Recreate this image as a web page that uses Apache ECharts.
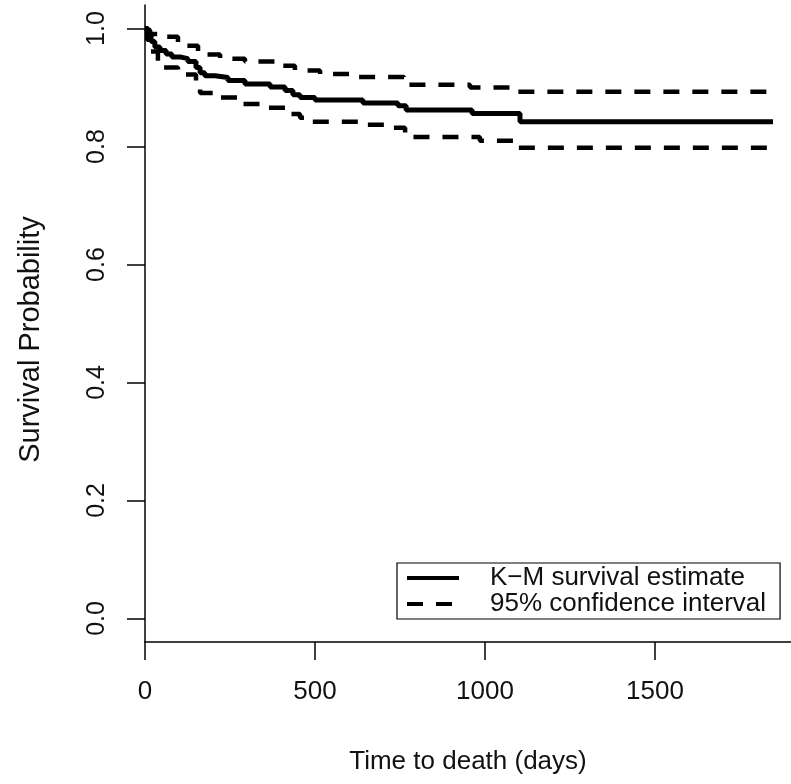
<!DOCTYPE html>
<html>
<head>
<meta charset="utf-8">
<script src="https://cdn.jsdelivr.net/npm/echarts@6/dist/echarts.min.js"></script>
<style>
  html, body { margin: 0; padding: 0; background: #fff; }
  #main { width: 791px; height: 784px; }
</style>
</head>
<body>
<div id="main"></div>
<script>
// K-M estimate (time in days, survival after the drop)
var kmTime = [0, 9, 18, 29, 44, 62, 79, 103, 126, 150, 162, 176, 206, 244, 294, 368, 412, 435, 456, 500, 641, 744, 768, 962, 1103, 1847];
var kmSurv = [1.0, 0.99, 0.978, 0.969, 0.963, 0.957, 0.952, 0.949, 0.944, 0.934, 0.925, 0.920, 0.917, 0.912, 0.906, 0.901, 0.895, 0.888, 0.883, 0.879, 0.874, 0.869, 0.862, 0.856, 0.842, 0.842];

// 95% confidence bounds
var upperTime = [0, 3, 15, 44, 97, 118, 156, 221, 294, 382, 441, 515, 618, 762, 956, 1097, 1847];
var upperSurv = [1.0, 0.997, 0.991, 0.986, 0.976, 0.971, 0.956, 0.949, 0.944, 0.937, 0.929, 0.923, 0.918, 0.905, 0.900, 0.893, 0.893];
var lowerTime = [0, 6, 15, 38, 53, 97, 150, 162, 206, 279, 353, 412, 456, 485, 632, 721, 765, 985, 1097, 1847];
var lowerSurv = [1.0, 0.981, 0.961, 0.944, 0.934, 0.922, 0.900, 0.891, 0.883, 0.872, 0.866, 0.855, 0.849, 0.842, 0.837, 0.832, 0.816, 0.810, 0.798, 0.798];

var xTicks = [0, 500, 1000, 1500];
var yTicks = [0, 0.2, 0.4, 0.6, 0.8, 1.0];

var kmName = 'K\u2212M survival estimate';
var ciName = '95% confidence interval';

function pairs(xs, ys) {
  return xs.map(function (x, i) { return [x, ys[i]]; });
}

var font = 'Liberation Sans, Arial, sans-serif';
var ink = '#111';

var chart = echarts.init(document.getElementById('main'));
var option = {
  backgroundColor: '#fff',
  animation: false,
  grid: { left: 145, right: 0, top: 5, bottom: 142 },
  xAxis: {
    type: 'value',
    min: 0,
    max: 1900,
    name: 'Time to death (days)',
    nameLocation: 'middle',
    nameGap: 107,
    nameTextStyle: { fontFamily: font, fontSize: 26, color: ink },
    axisLine: { show: true, onZero: false, lineStyle: { color: '#000', width: 1.5 } },
    axisTick: { show: true, length: 18, customValues: xTicks, lineStyle: { color: '#000', width: 1.5 } },
    axisLabel: {
      customValues: xTicks,
      margin: 37,
      fontFamily: font,
      fontSize: 26,
      color: ink,
      formatter: function (v) { return String(v); }
    },
    splitLine: { show: false }
  },
  yAxis: {
    type: 'value',
    min: -0.04,
    max: 1.04,
    name: 'Survival Probability',
    nameLocation: 'middle',
    nameGap: 100,
    nameTextStyle: { fontFamily: font, fontSize: 29, color: ink, padding: [0, 32, 0, 0] },
    axisLine: { show: true, onZero: false, lineStyle: { color: '#000', width: 1.5 } },
    axisTick: { show: true, length: 18, customValues: yTicks, lineStyle: { color: '#000', width: 1.5 } },
    axisLabel: {
      customValues: yTicks,
      rotate: 90,
      margin: 35,
      fontFamily: font,
      fontSize: 25,
      color: ink,
      formatter: function (v) { return v.toFixed(1); }
    },
    splitLine: { show: false }
  },
  legend: {
    data: [kmName, ciName],
    orient: 'vertical',
    left: 397,
    top: 563,
    padding: [2, 14, 2, 8],
    itemGap: 0,
    itemWidth: 52,
    itemHeight: 20,
    borderColor: '#000',
    borderWidth: 1.2,
    borderRadius: 0,
    lineStyle: { width: 4 },
    itemStyle: { opacity: 0 },
    selectedMode: false,
    textStyle: { fontFamily: font, fontSize: 26, lineHeight: 25, color: ink, padding: [0, 0, 0, 26] }
  },
  series: [
    {
      name: kmName,
      type: 'line',
      step: 'end',
      symbol: 'none',
      data: pairs(kmTime, kmSurv),
      lineStyle: { color: '#000', width: 5 },
      itemStyle: { color: '#000' }
    },
    {
      name: ciName,
      type: 'line',
      step: 'end',
      symbol: 'none',
      data: pairs(upperTime, upperSurv),
      lineStyle: { color: '#000', width: 4.5, type: [16, 13] },
      itemStyle: { color: '#000' }
    },
    {
      name: ciName,
      type: 'line',
      step: 'end',
      symbol: 'none',
      data: pairs(lowerTime, lowerSurv),
      lineStyle: { color: '#000', width: 4.5, type: [16, 13] },
      itemStyle: { color: '#000' }
    }
  ]
};
chart.setOption(option);
</script>
</body>
</html>
